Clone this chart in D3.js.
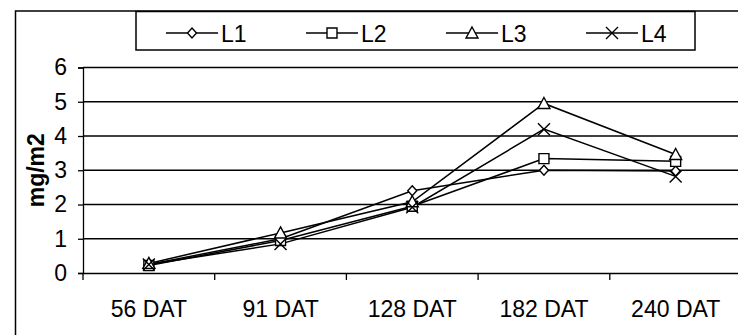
<!DOCTYPE html>
<html>
<head>
<meta charset="utf-8">
<script src="https://cdn.jsdelivr.net/npm/d3@7"></script>
<style>
  body { margin: 0; background: #fff; }
  text { font-family: "Liberation Sans", Arial, sans-serif; }
</style>
</head>
<body>
<div id="chart"></div>
<script>
// data
var categories = ["56 DAT", "91 DAT", "128 DAT", "182 DAT", "240 DAT"];
var seriesNames = ["L1", "L2", "L3", "L4"];
var L1 = [0.25, 1.0, 2.4, 3.0, 2.98];
var L2 = [0.22, 0.95, 1.95, 3.34, 3.26];
var L3 = [0.28, 1.17, 2.08, 4.95, 3.46];
var L4 = [0.25, 0.85, 1.92, 4.2, 2.82];
var yTicks = [0, 1, 2, 3, 4, 5, 6];
var yLabel = "mg/m2";

var width = 738, height = 335;
var svg = d3.select("#chart").append("svg")
    .attr("width", width)
    .attr("height", height);

// outer chart frame (runs off the right and bottom edges)
svg.append("rect")
    .attr("x", 15.5).attr("y", 11)
    .attr("width", 760).attr("height", 360)
    .attr("fill", "none").attr("stroke", "#000").attr("stroke-width", 1.5);

var x = d3.scaleBand().domain(categories).range([83, 741.5]);
var y = d3.scaleLinear().domain([0, 6]).range([273, 67.5]);

// gridlines
svg.append("g").selectAll("line")
    .data(yTicks.filter(d => d > 0))
    .enter().append("line")
    .attr("x1", 83).attr("x2", width)
    .attr("y1", d => y(d)).attr("y2", d => y(d))
    .attr("stroke", "#000").attr("stroke-width", 1.3);

// y axis
var yAxis = svg.append("g")
    .attr("transform", "translate(83,0)")
    .call(d3.axisLeft(y).tickValues(yTicks).tickSize(5).tickPadding(11).tickFormat(d3.format("d")));
yAxis.select(".domain").attr("stroke", "#000").attr("stroke-width", 1.3);
yAxis.selectAll(".tick line").attr("stroke", "#000").attr("stroke-width", 1.3);
yAxis.selectAll("text").attr("font-size", "23px").attr("fill", "#000")
    .style("font-family", '"Liberation Sans", Arial, sans-serif');

// x axis
var xAxis = svg.append("g")
    .attr("transform", "translate(0,273)")
    .call(d3.axisBottom(x).tickSize(0).tickPadding(28));
xAxis.select(".domain").attr("stroke", "#000").attr("stroke-width", 1.3);
xAxis.selectAll("text").attr("font-size", "23px").attr("fill", "#000")
    .style("font-family", '"Liberation Sans", Arial, sans-serif');
// tick marks between categories
svg.append("g").selectAll("line")
    .data(categories)
    .enter().append("line")
    .attr("x1", d => x(d)).attr("x2", d => x(d))
    .attr("y1", 273).attr("y2", 280)
    .attr("stroke", "#000").attr("stroke-width", 1.3);

// y axis title
svg.append("text")
    .attr("transform", "translate(44," + (y(3)) + ") rotate(-90)")
    .attr("text-anchor", "middle")
    .attr("font-size", "23px")
    .attr("font-weight", "bold")
    .text(yLabel);

// marker shapes
function marker(name) {
    if (name === "L1") return "M0,-5L4.5,0L0,5L-4.5,0Z";
    if (name === "L2") return "M-5,-5H5V5H-5Z";
    if (name === "L3") return "M0,-6L6,5H-6Z";
    return "M-6,-6L6,6M6,-6L-6,6";
}

var seriesData = [L1, L2, L3, L4];
var line = d3.line()
    .x((d, i) => x(categories[i]) + x.bandwidth() / 2)
    .y(d => y(d));

seriesData.forEach(function(vals, k) {
    svg.append("path")
        .attr("d", line(vals))
        .attr("fill", "none")
        .attr("stroke", "#000")
        .attr("stroke-width", 1.5);
});
seriesData.forEach(function(vals, k) {
    svg.append("g").selectAll("path")
        .data(vals)
        .enter().append("path")
        .attr("transform", (d, i) => "translate(" + (x(categories[i]) + x.bandwidth() / 2) + "," + y(d) + ")")
        .attr("d", marker(seriesNames[k]))
        .attr("fill", seriesNames[k] === "L4" ? "none" : "#fff")
        .attr("stroke", "#000")
        .attr("stroke-width", 1.4);
});

// legend
svg.append("rect")
    .attr("x", 136).attr("y", 11.5)
    .attr("width", 559).attr("height", 38.5)
    .attr("fill", "#fff").attr("stroke", "#000").attr("stroke-width", 1.5);

var legend = svg.append("g").selectAll("g")
    .data(seriesNames)
    .enter().append("g")
    .attr("transform", (d, i) => "translate(" + (166 + i * 140) + ",33)");
legend.append("line")
    .attr("x1", 0).attr("x2", 52)
    .attr("stroke", "#000").attr("stroke-width", 1.5);
legend.append("path")
    .attr("transform", "translate(26,0)")
    .attr("d", d => marker(d))
    .attr("fill", d => d === "L4" ? "none" : "#fff")
    .attr("stroke", "#000").attr("stroke-width", 1.4);
legend.append("text")
    .attr("x", 55).attr("y", 8.5)
    .attr("font-size", "23px")
    .text(d => d);
</script>
</body>
</html>
